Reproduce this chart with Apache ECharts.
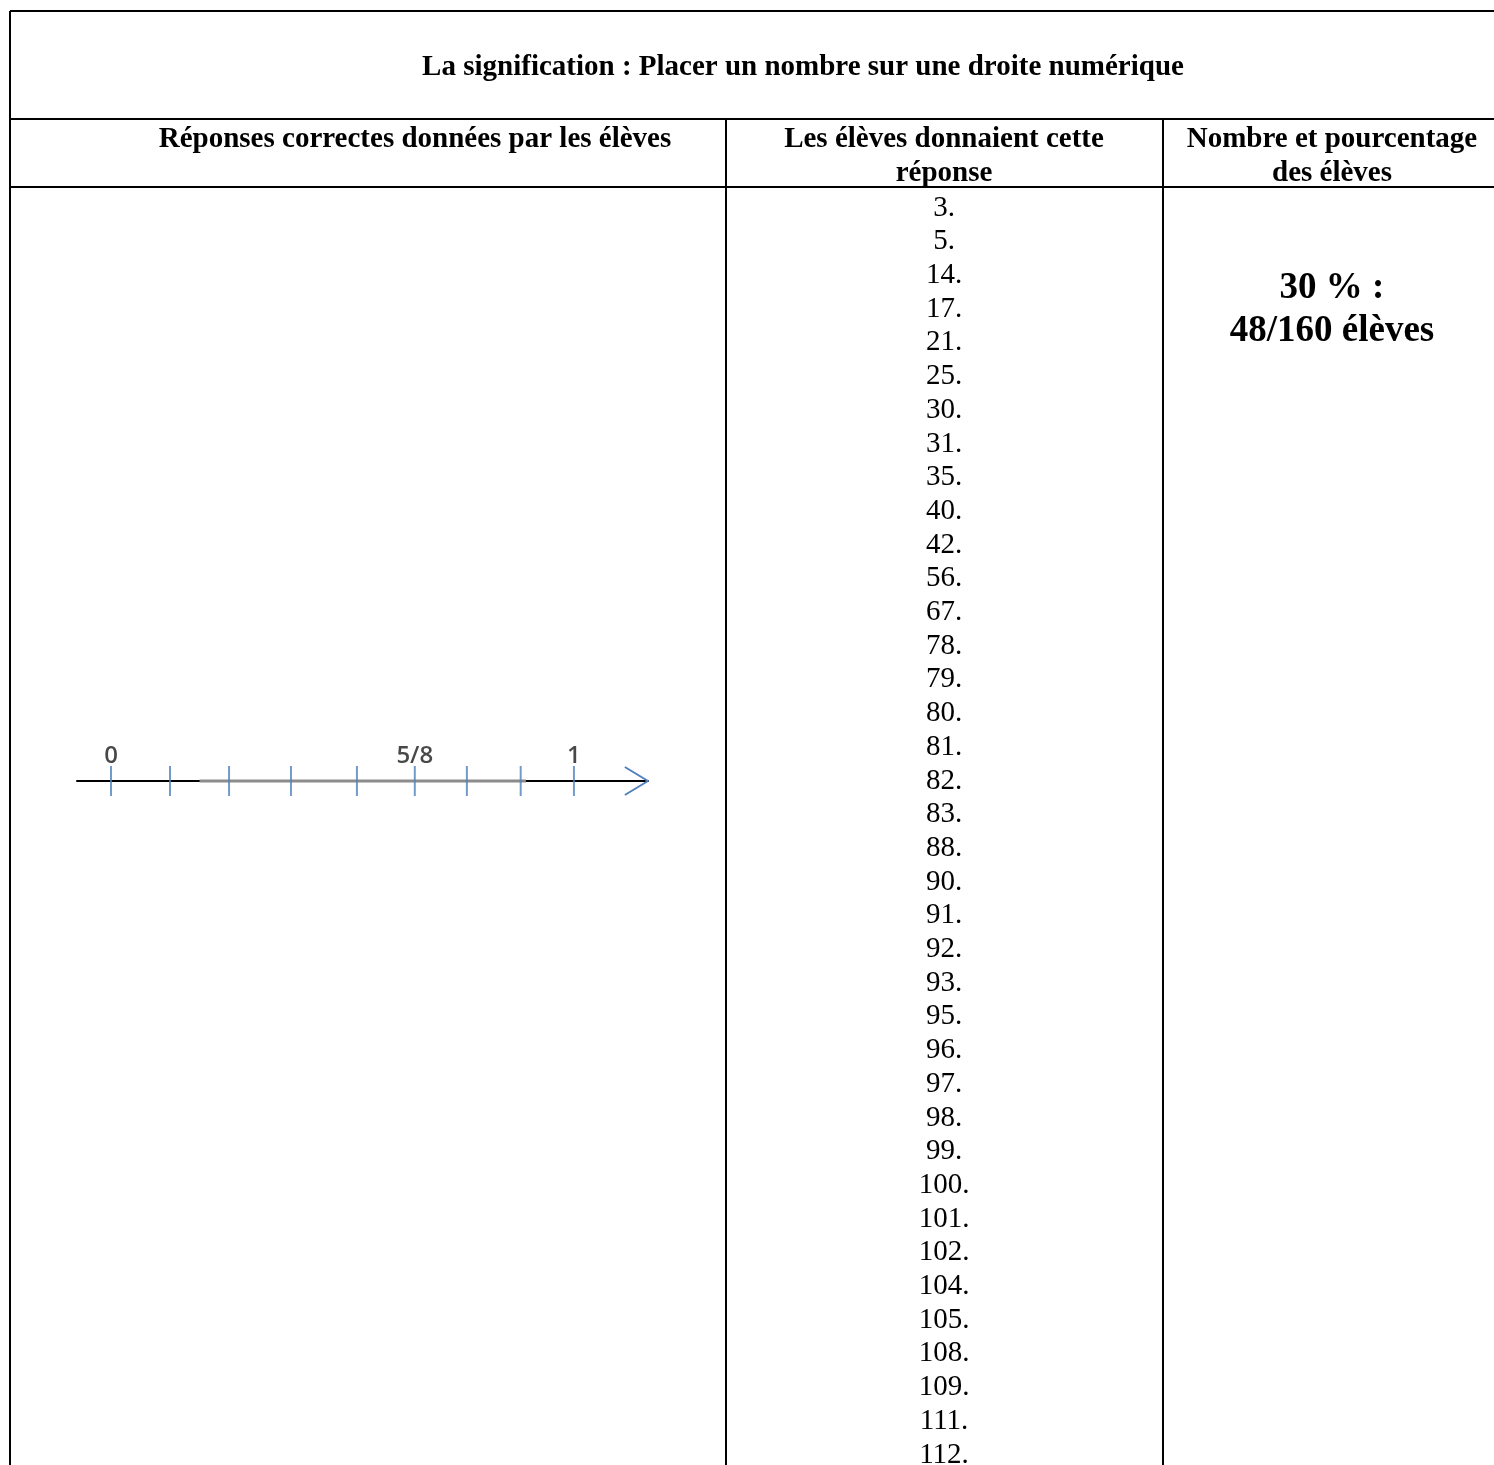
<!DOCTYPE html>
<html>
<head>
<meta charset="utf-8">
<script src="https://cdn.jsdelivr.net/npm/echarts@6/dist/echarts.min.js"></script>
<style>
html, body { margin: 0; padding: 0; background: #fff; }
#main { width: 1494px; height: 1465px; }
</style>
</head>
<body>
<div id="main"></div>
<script>
var titleText = 'La signification : Placer un nombre sur une droite numérique';
var colHeaders = [
    ['Réponses correctes données par les élèves'],
    ['Les élèves donnaient cette', 'réponse'],
    ['Nombre et pourcentage', 'des élèves']
];
// numéros des élèves ayant donné la bonne réponse
var answers = [3, 5, 14, 17, 21, 25, 30, 31, 35, 40, 42, 56, 67, 78, 79, 80, 81, 82, 83,
    88, 90, 91, 92, 93, 95, 96, 97, 98, 99, 100, 101, 102, 104, 105, 108, 109, 111, 112];
var resultLines = ['30 % :', '48/160 élèves'];

// droite numérique : graduations en huitièmes (positions)
var tickPos = [0, 1.02, 2.04, 3.11, 4.25, 5.25, 6.15, 7.08, 8];
var tickLabels = ['0', '', '', '', '', '5/8', '', '', '1'];
var greySegment = [[1.53, 0], [7.17, 0]];
var arrowHead = [[8.88, 0.35], [9.28, 0], [8.88, -0.35]];

var serif = '"Liberation Serif", "Times New Roman", serif';
var chart = echarts.init(document.getElementById('main'));

// cadre du tableau
var lines = [
    [10, 11, 1494, 11],
    [10, 11, 10, 1465],
    [10, 119, 1494, 119],
    [10, 187, 1494, 187],
    [726, 119, 726, 1465],
    [1163, 119, 1163, 1465]
];
var graphic = lines.map(function(l) {
    return {
        type: 'line',
        shape: { x1: l[0], y1: l[1], x2: l[2], y2: l[3] },
        style: { stroke: '#000', lineWidth: 2 }
    };
});

function addText(txt, x, y, size, weight) {
    graphic.push({
        type: 'text',
        style: {
            text: txt, x: x, y: y,
            fontFamily: serif, fontSize: size, fontWeight: weight,
            fill: '#000', align: 'center', verticalAlign: 'middle'
        }
    });
}

addText(titleText, 803, 68, 29, 'bold');
var colCenters = [415, 944, 1332];
colHeaders.forEach(function(h, i) {
    h.forEach(function(t, j) {
        addText(t, colCenters[i], 140 + j * 34, 29, 'bold');
    });
});
answers.forEach(function(n, i) {
    addText(n + '.', 944, 208 + i * 33.7, 29, 'normal');
});
resultLines.forEach(function(t, i) {
    addText(t, 1332, 288 + i * 43, 37, 'bold');
});

var option = {
    animation: false,
    backgroundColor: '#fff',
    graphic: graphic,
    grid: {
        left: 77,
        width: 571,
        top: 741,
        height: 80
    },
    xAxis: {
        type: 'value',
        min: -0.5875,
        max: 9.28,
        axisLine: { show: true, onZero: true, lineStyle: { color: '#000', width: 2 } },
        axisTick: { show: false },
        axisLabel: { show: false },
        splitLine: { show: false }
    },
    yAxis: {
        type: 'value',
        min: -1,
        max: 1,
        show: false
    },
    series: [{
        type: 'line',
        data: greySegment,
        symbol: 'none',
        lineStyle: { color: '#8c8c8c', width: 3 },
        z: 3
    }, {
        type: 'scatter',
        data: tickPos.map(function(v) { return [v, 0]; }),
        symbol: 'rect',
        symbolSize: [2, 30],
        itemStyle: { color: '#4f81bd' },
        label: {
            show: true,
            position: 'top',
            distance: 0,
            offset: [0, 2],
            formatter: function(p) { return tickLabels[p.dataIndex]; },
            fontFamily: '"Open Sans", "Noto Sans", sans-serif',
            fontSize: 24,
            fontWeight: 600,
            color: '#1a1a1a'
        },
        z: 4
    }, {
        type: 'line',
        data: arrowHead,
        symbol: 'none',
        lineStyle: { color: '#4f81bd', width: 2 },
        z: 4
    }]
};
chart.setOption(option);
</script>
</body>
</html>
